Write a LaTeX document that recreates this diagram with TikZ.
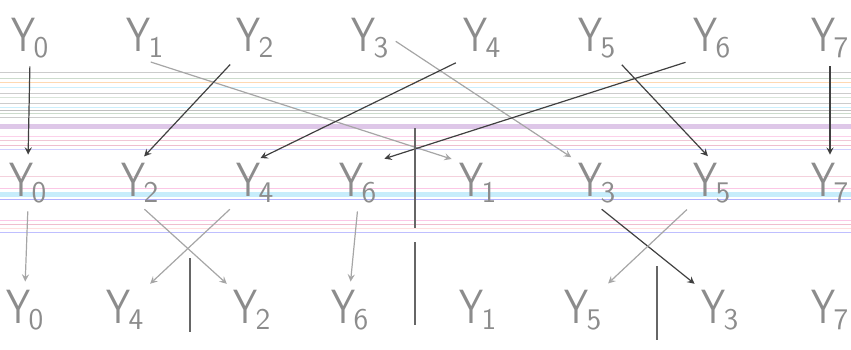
\documentclass[tikz,border=0pt]{standalone}
\usepackage{graphicx}
\newcommand{\yl}[1]{\scalebox{0.8}[1]{Y}\kern-1pt\raisebox{-0.3ex}{\fontsize{15}{15}\selectfont #1}}
\begin{document}
\begin{tikzpicture}[x=0.5pt,y=-0.5pt,
    lbl/.style={font=\sffamily\fontsize{24}{28}\selectfont,text=black!45,inner sep=1pt},
    arr/.style={->,>=stealth,black!75,semithick,shorten <=3pt,shorten >=3pt},
    farr/.style={arr,black!35},
    sep/.style={black!60,semithick}]
  \useasboundingbox (0,0) rectangle (851,349);
  \clip (0,0) rectangle (851,349);
  % ruled paper
  \foreach \y/\c in {72/black!20,78/green!30!black!20,82/orange!30,87/cyan!20,93/black!20,97/green!30!black!15,
      103/black!20,107/cyan!20,110/black!25,113/green!30!black!20,117/black!20,
      136/magenta!18,140/purple!22,145/purple!25,149/blue!18,
      176/purple!18,188/magenta!22,199/blue!30,220/magenta!22,224/purple!25,228/pink!50,232/blue!25}
    \draw[\c,line width=0.5pt] (0,\y) -- (851,\y);
  \fill[blue!45!purple!22] (0,124) rectangle (851,129);
  \fill[cyan!22] (0,192) rectangle (851,197);
  % row 1
  \node[lbl] (a0) at (30,38) {\yl{0}};
  \node[lbl] (a1) at (145,38) {\yl{1}};
  \node[lbl] (a2) at (255,38) {\yl{2}};
  \node[lbl] (a3) at (370,38) {\yl{3}};
  \node[lbl] (a4) at (482,38) {\yl{4}};
  \node[lbl] (a5) at (597,38) {\yl{5}};
  \node[lbl] (a6) at (712,38) {\yl{6}};
  \node[lbl] (a7) at (830,38) {\yl{7}};
  % row 2
  \node[lbl] (b0) at (28,183) {\yl{0}};
  \node[lbl] (b2) at (140,183) {\yl{2}};
  \node[lbl] (b4) at (255,183) {\yl{4}};
  \node[lbl] (b6) at (358,183) {\yl{6}};
  \node[lbl] (b1) at (478,183) {\yl{1}};
  \node[lbl] (b3) at (597,183) {\yl{3}};
  \node[lbl] (b5) at (712,183) {\yl{5}};
  \node[lbl] (b7) at (830,183) {\yl{7}};
  % row 3
  \node[lbl] (c0) at (25,310) {\yl{0}};
  \node[lbl] (c4) at (125,310) {\yl{4}};
  \node[lbl] (c2) at (252,310) {\yl{2}};
  \node[lbl] (c6) at (350,310) {\yl{6}};
  \node[lbl] (c1) at (478,310) {\yl{1}};
  \node[lbl] (c5) at (583,310) {\yl{5}};
  \node[lbl] (c3) at (720,310) {\yl{3}};
  \node[lbl] (c7) at (830,310) {\yl{7}};
  % first pass
  \draw[arr] (a0.south) -- (b0.north);
  \draw[farr] (a1.south) -- (b1.north west);
  \draw[arr] (a2.south west) -- (b2.north);
  \draw[farr] (a3.east) -- (b3.north west);
  \draw[arr] (a4.south west) -- (b4.north);
  \draw[arr] (a5.south east) -- (b5.north);
  \draw[arr] (a6.south west) -- (b6.north east);
  \draw[arr] (a7.south) -- (b7.north);
  % second pass
  \draw[farr] (b0.south) -- (c0.north);
  \draw[farr] (b2.south) -- (c2.north west);
  \draw[farr] (b4.south west) -- (c4.north east);
  \draw[farr] (b6.south) -- (c6.north);
  \draw[arr] (b3.south) -- (c3.north west);
  \draw[farr] (b5.south west) -- (c5.north east);
  % dividers
  \draw[sep] (415,128) -- (415,228);
  \draw[sep] (415,242) -- (415,325);
  \draw[sep] (190,258) -- (190,332);
  \draw[sep] (657,266) -- (657,340);
\end{tikzpicture}
\end{document}
